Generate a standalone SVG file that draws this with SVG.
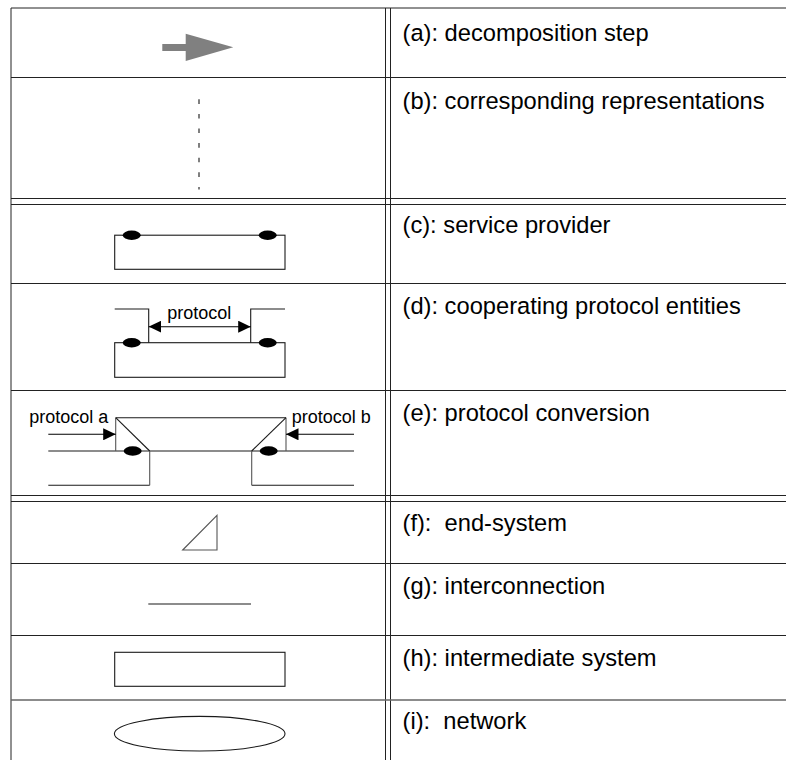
<svg xmlns="http://www.w3.org/2000/svg" width="786" height="760" viewBox="0 0 786 760">
  <style>
    .grid { stroke: #222; stroke-width: 1; fill: none; }
    .grid-soft { stroke: #666; stroke-width: 1.4; fill: none; }
    .ln { stroke: #1a1a1a; stroke-width: 1.1; fill: none; }
    .ln-g { stroke: #555; stroke-width: 1.1; fill: none; }
    .sap { fill: #000; }
    .cap { font-family: "Liberation Sans", Arial, Helvetica, sans-serif; font-size: 23.7px; fill: #000; }
    .tag { font-family: "Liberation Sans", Arial, Helvetica, sans-serif; font-size: 18px; fill: #000; }
    .arrow { stroke: #000; stroke-width: 1.1; fill: none; marker-end: url(#head); }
  </style>
  <defs>
    <marker id="head" viewBox="0 0 12.5 12" refX="12.5" refY="6" markerWidth="12.5" markerHeight="12" markerUnits="userSpaceOnUse" orient="auto-start-reverse">
      <path d="M0,0 L12.5,6 L0,12 Z" fill="#000"/>
    </marker>
  </defs>
  <rect width="786" height="760" fill="#fff"/>

  <!-- table frame -->
  <g id="table">
    <line class="grid" x1="11" y1="8" x2="786" y2="8"/>
    <line class="grid" x1="11" y1="8" x2="11" y2="760"/>
    <line class="grid" x1="385.5" y1="8" x2="385.5" y2="760"/>
    <line class="grid" x1="390.5" y1="8" x2="390.5" y2="760"/>
    <line class="grid" x1="11" y1="77.5" x2="786" y2="77.5"/>
    <line class="grid" x1="11" y1="198.5" x2="786" y2="198.5"/>
    <line class="grid" x1="11" y1="204.5" x2="786" y2="204.5"/>
    <line class="grid" x1="11" y1="283.5" x2="786" y2="283.5"/>
    <line class="grid" x1="11" y1="390.5" x2="786" y2="390.5"/>
    <line class="grid" x1="11" y1="495.5" x2="786" y2="495.5"/>
    <line class="grid" x1="11" y1="501.5" x2="786" y2="501.5"/>
    <line class="grid" x1="11" y1="563.5" x2="786" y2="563.5"/>
    <line class="grid" x1="11" y1="635.5" x2="786" y2="635.5"/>
    <line class="grid-soft" x1="11" y1="700" x2="786" y2="700"/>
  </g>

  <!-- (a) decomposition step -->
  <g id="row-a">
    <path d="M162.3,44 H185.7 V33.7 L233.3,47.3 L185.7,61 V51 H162.3 Z" fill="#808080"/>
    <text class="cap" x="402.5" y="41">(a): decomposition step</text>
  </g>

  <!-- (b) corresponding representations -->
  <g id="row-b">
    <line x1="199" y1="99.3" x2="199" y2="189.5" stroke="#555" stroke-width="1.5" stroke-dasharray="4.6 10"/>
    <text class="cap" x="402.5" y="109">(b): corresponding representations</text>
  </g>

  <!-- (c) service provider -->
  <g id="row-c">
    <rect class="ln" x="114.7" y="235.2" width="170.3" height="34.1"/>
    <ellipse class="sap" cx="131.7" cy="235.3" rx="9" ry="4.7"/>
    <ellipse class="sap" cx="267.7" cy="235.3" rx="9" ry="4.7"/>
    <text class="cap" x="402.5" y="232.5">(c): service provider</text>
  </g>

  <!-- (d) cooperating protocol entities -->
  <g id="row-d">
    <rect class="ln" x="114.7" y="342.7" width="170.3" height="34.6"/>
    <path class="ln" d="M114.7,309 H148.7 V342.7"/>
    <path class="ln" d="M285,309 H250.7 V342.7"/>
    <ellipse class="sap" cx="131.7" cy="342.7" rx="9" ry="4.7"/>
    <ellipse class="sap" cx="267.7" cy="342.7" rx="9" ry="4.7"/>
    <text class="tag" x="199.3" y="319.3" text-anchor="middle">protocol</text>
    <text class="cap" x="402.5" y="313.5">(d): cooperating protocol entities</text>
  </g>

  <!-- (e) protocol conversion -->
  <g id="row-e">
    <line class="ln" x1="115.7" y1="417.7" x2="286" y2="417.7"/>
    <line class="ln" x1="48.3" y1="451" x2="354" y2="451"/>
    <line class="ln" x1="48.3" y1="485.3" x2="149.7" y2="485.3"/>
    <line class="ln" x1="251.7" y1="485.3" x2="354" y2="485.3"/>
    <path class="ln-g" d="M115.7,417.7 V451"/>
    <path class="ln" d="M115.7,417.7 L149.7,451"/>
    <path class="ln-g" d="M149.7,451 V485.3"/>
    <path class="ln-g" d="M286,417.7 V451"/>
    <path class="ln" d="M286,417.7 L251.7,451"/>
    <path class="ln-g" d="M251.7,451 V485.3"/>
    <ellipse class="sap" cx="132.7" cy="451" rx="9" ry="4.7"/>
    <ellipse class="sap" cx="268.7" cy="451" rx="9" ry="4.7"/>
    <text class="tag" x="29.3" y="423.3">protocol a</text>
    <text class="tag" x="291.7" y="423.3">protocol b</text>
    <text class="cap" x="402.5" y="420.5">(e): protocol conversion</text>
  </g>

  <!-- (f) end-system -->
  <g id="row-f">
    <path class="ln-g" d="M182.7,550 L217,515.3 V550 Z"/>
    <text class="cap" x="402.5" y="530.5" xml:space="preserve">(f):  end-system</text>
  </g>

  <!-- (g) interconnection -->
  <g id="row-g">
    <line class="ln" x1="148.3" y1="604" x2="251" y2="604"/>
    <text class="cap" x="402.5" y="594">(g): interconnection</text>
  </g>

  <!-- (h) intermediate system -->
  <g id="row-h">
    <rect class="ln" x="114.7" y="652.3" width="170.3" height="34"/>
    <text class="cap" x="402.5" y="665.5">(h): intermediate system</text>
  </g>

  <!-- (i) network -->
  <g id="row-i">
    <ellipse class="ln" cx="199.7" cy="733.7" rx="85.3" ry="17.3"/>
    <text class="cap" x="402.5" y="729" xml:space="preserve">(i):  network</text>
  </g>

  <!-- protocol arrows -->
  <g id="connectors">
    <line class="arrow" x1="148.7" y1="326.7" x2="250.7" y2="326.7" marker-start="url(#head)"/>
    <line class="arrow" x1="48.3" y1="434.3" x2="115.7" y2="434.3"/>
    <line class="arrow" x1="354" y1="434.3" x2="286" y2="434.3"/>
  </g>
</svg>
